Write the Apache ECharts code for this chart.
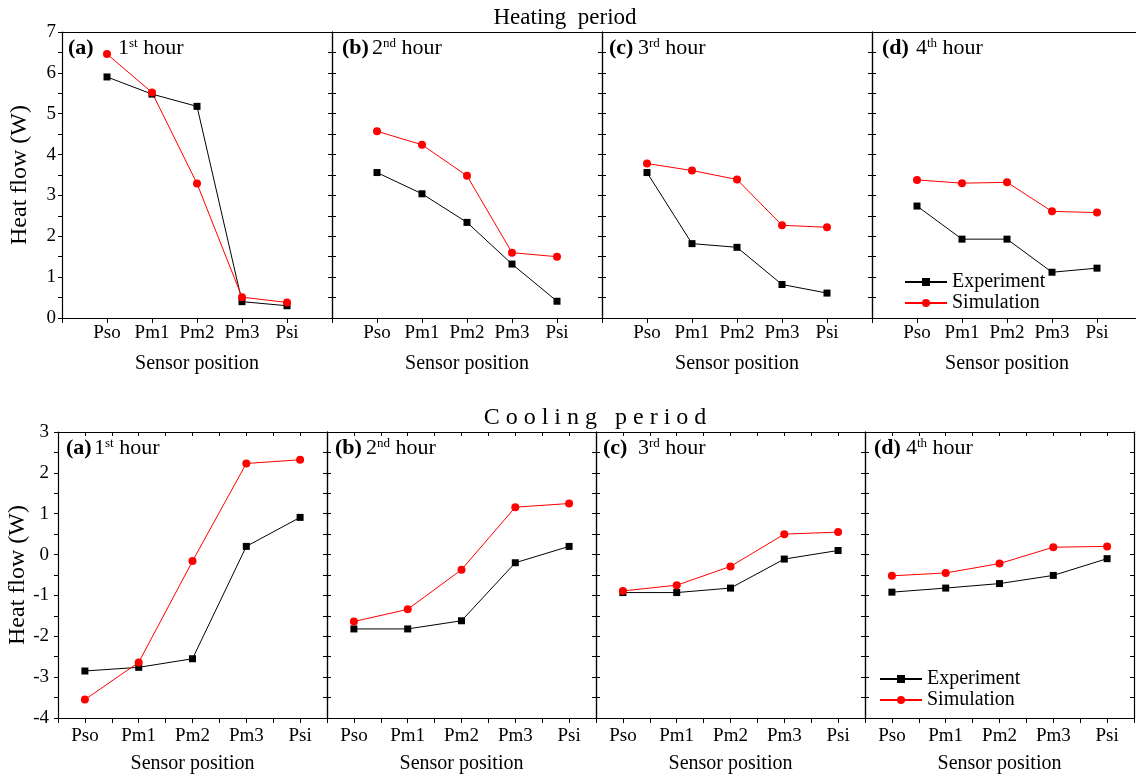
<!DOCTYPE html>
<html>
<head>
<meta charset="utf-8">
<title>Heat flow</title>
<script src="https://cdn.jsdelivr.net/npm/echarts@6/dist/echarts.min.js"></script>
<style>
  html, body { margin: 0; padding: 0; background: #fff; }
  #main { width: 1136px; height: 776px; }
</style>
</head>
<body>
<div id="main"></div>
<script>
// sensor positions on the x axis
const categories = ['Pso', 'Pm1', 'Pm2', 'Pm3', 'Psi'];
const panelTags = ['(a)', '(b)', '(c)', '(d)'];
const hourNums = ['1', '2', '3', '4'];
const hourSups = ['st', 'nd', 'rd', 'th'];

// heating period, one row per hour
const heatingExperiment = [
  [5.9, 5.48, 5.18, 0.4, 0.3],
  [3.56, 3.04, 2.34, 1.32, 0.41],
  [3.56, 1.82, 1.73, 0.82, 0.61],
  [2.74, 1.93, 1.93, 1.12, 1.22]
];
const heatingSimulation = [
  [6.46, 5.52, 3.29, 0.51, 0.38],
  [4.57, 4.24, 3.48, 1.6, 1.5],
  [3.78, 3.61, 3.39, 2.27, 2.22],
  [3.38, 3.3, 3.32, 2.61, 2.58]
];

// cooling period, one row per hour
const coolingExperiment = [
  [-2.85, -2.76, -2.55, 0.2, 0.91],
  [-1.82, -1.82, -1.62, -0.2, 0.2],
  [-0.93, -0.93, -0.82, -0.11, 0.1],
  [-0.92, -0.82, -0.71, -0.51, -0.1]
];
const coolingSimulation = [
  [-3.55, -2.64, -0.16, 2.23, 2.32],
  [-1.64, -1.34, -0.37, 1.16, 1.25],
  [-0.89, -0.75, -0.29, 0.5, 0.55],
  [-0.52, -0.45, -0.22, 0.18, 0.2]
];

const heatingTicks = { min: 0, max: 7 };
const coolingTicks = { min: -4, max: 3 };

const FONT = '"Liberation Serif", "Times New Roman", serif';
const black = '#000';

const rows = [
  {
    top: 32, lefts: [62, 332, 602, 872], width: 270, y: heatingTicks,
    xMin: 0, xMax: 6, xInterval: 1, topTicks: false, lastRight: false,
    exp: heatingExperiment, sim: heatingSimulation,
    labelMargin: 6, yLabelMargin: 6, xNameGap: 36, yNameGap: 30,
    tagX: [68, 342, 609, 882], hourX: [118, 372, 638, 916], tagY: 48
  },
  {
    top: 432, lefts: [58, 327, 596, 865], width: 269, y: coolingTicks,
    xMin: 0.5, xMax: 5.5, xInterval: 0.5, topTicks: true, lastRight: true,
    exp: coolingExperiment, sim: coolingSimulation,
    labelMargin: 9, yLabelMargin: 9, xNameGap: 36, yNameGap: 27,
    tagX: [66, 335, 603, 874], hourX: [94, 366, 638, 906], tagY: 448
  }
];

const grid = [], xAxis = [], yAxis = [], series = [], graphic = [];

rows.forEach(function (row) {
  row.lefts.forEach(function (left, col) {
    const g = grid.length;
    grid.push({
      left: left, top: row.top, width: row.width, height: 286,
      containLabel: false, outerBoundsMode: 'none'
    });

    const xBase = {
      gridIndex: g, type: 'value', min: row.xMin, max: row.xMax, interval: row.xInterval,
      splitLine: { show: false },
      axisLine: { onZero: false, lineStyle: { color: black, width: 1.2 } }
    };
    xAxis.push(Object.assign({}, xBase, {
      position: 'bottom',
      axisTick: { show: true, inside: false, length: 5, lineStyle: { color: black } },
      axisLabel: {
        color: black, fontFamily: FONT, fontSize: 19, margin: row.labelMargin,
        formatter: function (v) {
          return Number.isInteger(v) ? (categories[v - 1] || '') : '';
        }
      },
      name: 'Sensor position', nameLocation: 'middle', nameGap: row.xNameGap,
      nameTextStyle: { color: black, fontFamily: FONT, fontSize: 20 }
    }));
    xAxis.push(Object.assign({}, xBase, {
      position: 'top',
      axisTick: { show: row.topTicks, inside: true, length: 4, lineStyle: { color: black } },
      axisLabel: { show: false }
    }));

    const yBase = {
      gridIndex: g, type: 'value', min: row.y.min, max: row.y.max, interval: 1,
      splitLine: { show: false },
      axisLine: { show: true, onZero: false, lineStyle: { color: black, width: 1.2 } },
      minorTick: { show: true, splitNumber: 2, length: 4, lineStyle: { color: black } },
      minorSplitLine: { show: false }
    };
    yAxis.push(Object.assign({}, yBase, {
      position: 'left',
      axisTick: { show: true, inside: col > 0, length: 4, lineStyle: { color: black } },
      axisLabel: {
        show: col === 0, color: black, fontFamily: FONT, fontSize: 19, margin: row.yLabelMargin
      },
      name: col === 0 ? 'Heat flow (W)' : '', nameLocation: 'middle', nameGap: row.yNameGap,
      nameTextStyle: { color: black, fontFamily: FONT, fontSize: 24 }
    }));
    // last heating panel runs past the picture edge, so its right frame is not seen
    const showRight = col < 3 || row.lastRight;
    yAxis.push(Object.assign({}, yBase, {
      position: 'right',
      show: showRight,
      axisTick: { show: true, inside: true, length: 4, lineStyle: { color: black } },
      axisLabel: { show: false }
    }));

    series.push({
      name: 'Experiment', type: 'line', xAxisIndex: g * 2, yAxisIndex: g * 2,
      data: row.exp[col].map(function (v, i) { return [i + 1, v]; }),
      symbol: 'rect', symbolSize: 7,
      lineStyle: { color: black, width: 1 }, itemStyle: { color: black },
      animation: false
    });
    series.push({
      name: 'Simulation', type: 'line', xAxisIndex: g * 2, yAxisIndex: g * 2,
      data: row.sim[col].map(function (v, i) { return [i + 1, v]; }),
      symbol: 'circle', symbolSize: 8,
      lineStyle: { color: '#ff0000', width: 1 }, itemStyle: { color: '#ff0000' },
      animation: false
    });

    graphic.push({
      type: 'text', x: row.tagX[col], y: row.tagY,
      style: {
        text: panelTags[col], fill: black, fontFamily: FONT, fontSize: 22, fontWeight: 'bold',
        verticalAlign: 'middle'
      }
    });
    graphic.push({
      type: 'text', x: row.hourX[col], y: row.tagY,
      style: {
        text: '{n|' + hourNums[col] + '}{s|' + hourSups[col] + '}{n| hour}',
        verticalAlign: 'middle',
        rich: {
          n: { fill: black, fontFamily: FONT, fontSize: 22 },
          s: { fill: black, fontFamily: FONT, fontSize: 13, verticalAlign: 'top' }
        }
      }
    });
  });
});

graphic.push({
  type: 'text', x: 565, y: 18,
  style: { text: 'Heating  period', fill: black, fontFamily: FONT, fontSize: 23, align: 'center', verticalAlign: 'middle' }
});
graphic.push({
  type: 'text', x: 595, y: 418,
  style: { text: 'C o o l i n g   p e r i o d', fill: black, fontFamily: FONT, fontSize: 24, align: 'center', verticalAlign: 'middle' }
});

const legendBase = {
  orient: 'vertical', data: ['Experiment', 'Simulation'],
  itemWidth: 42, itemHeight: 10, itemGap: 1,
  textStyle: { color: black, fontFamily: FONT, fontSize: 20 },
  selectedMode: false
};

const chart = echarts.init(document.getElementById('main'));
chart.setOption({
  backgroundColor: '#fff',
  animation: false,
  grid: grid,
  xAxis: xAxis,
  yAxis: yAxis,
  series: series,
  legend: [
    Object.assign({}, legendBase, { left: 899, top: 267 }),
    Object.assign({}, legendBase, { left: 874, top: 664 })
  ],
  graphic: graphic
});
</script>
</body>
</html>
